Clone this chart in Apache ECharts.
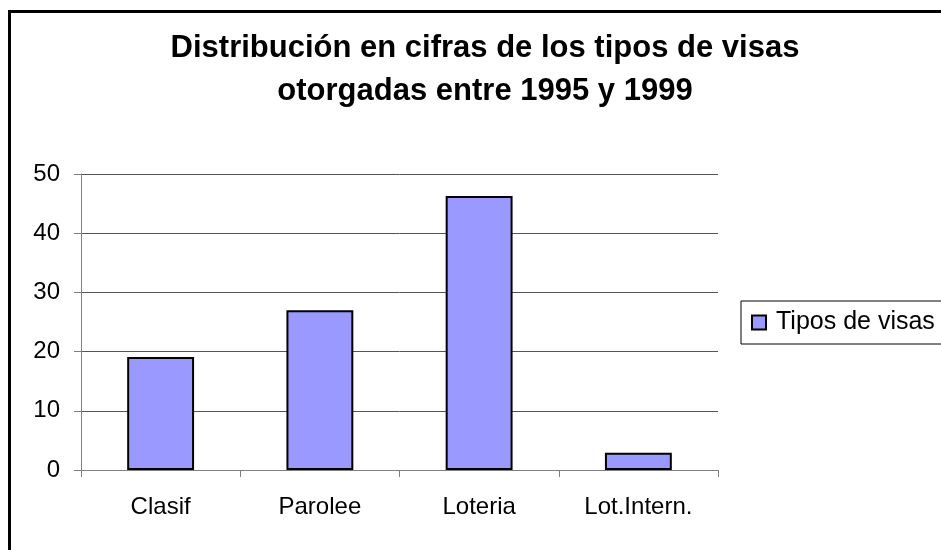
<!DOCTYPE html>
<html>
<head>
<meta charset="utf-8">
<script src="https://cdn.jsdelivr.net/npm/echarts@6/dist/echarts.min.js"></script>
<style>
  html, body { margin: 0; padding: 0; background: #fff; }
  #chart { width: 941px; height: 550px; }
</style>
</head>
<body>
<div id="chart"></div>
<script>
// datos
const categorias = ['Clasif', 'Parolee', 'Loteria', 'Lot.Intern.'];
const tiposVisas = [19.1, 27, 46.3, 2.9];
const ticksY = [0, 10, 20, 30, 40, 50];

const fuente = '"Liberation Sans", Arial, sans-serif';
const chart = echarts.init(document.getElementById('chart'));

const option = {
  backgroundColor: '#fff',
  animation: false,
  title: {
    text: 'Distribución en cifras de los tipos de visas\notorgadas entre 1995 y 1999',
    left: 480,
    top: 22,
    textAlign: 'center',
    textStyle: {
      fontFamily: fuente,
      fontSize: 31,
      fontWeight: 'bold',
      color: '#000',
      lineHeight: 43
    }
  },
  graphic: [{
    // marco exterior (solo se ven los bordes izquierdo y superior)
    type: 'rect',
    shape: { x: 9.5, y: 11.5, width: 1000, height: 600 },
    style: { fill: 'none', stroke: '#000', lineWidth: 3 },
    silent: true
  }],
  legend: {
    left: 741,
    top: 301,
    orient: 'vertical',
    borderColor: '#000',
    borderWidth: 1,
    padding: [9, 12, 9, 10],
    itemWidth: 14,
    itemHeight: 14,
    itemGap: 0,
    icon: 'rect',
    textStyle: { fontFamily: fuente, fontSize: 25, color: '#000', padding: [0, 0, 0, 5] },
    data: ['Tipos de visas']
  },
  grid: { left: 81, right: 223, top: 174, bottom: 80, containLabel: false },
  xAxis: {
    type: 'category',
    data: categorias,
    boundaryGap: true,
    axisLine: { lineStyle: { color: '#808080', width: 1 } },
    axisTick: { show: true, length: 7, lineStyle: { color: '#808080' } },
    axisLabel: { fontFamily: fuente, fontSize: 24, color: '#000', margin: 25 }
  },
  yAxis: {
    type: 'value',
    min: ticksY[0],
    max: ticksY[ticksY.length - 1],
    interval: 10,
    axisLine: { show: true, lineStyle: { color: '#808080', width: 1 } },
    axisTick: { show: true, length: 7, lineStyle: { color: '#808080' } },
    axisLabel: { fontFamily: fuente, fontSize: 24, color: '#000', margin: 21 },
    splitLine: { show: true, lineStyle: { color: '#555', width: 1 } }
  },
  series: [{
    name: 'Tipos de visas',
    type: 'bar',
    data: tiposVisas,
    barWidth: '42%',
    itemStyle: { color: '#9999FF', borderColor: '#000', borderWidth: 2 }
  }]
};

chart.setOption(option);
window.addEventListener('resize', () => chart.resize());
</script>
</body>
</html>
